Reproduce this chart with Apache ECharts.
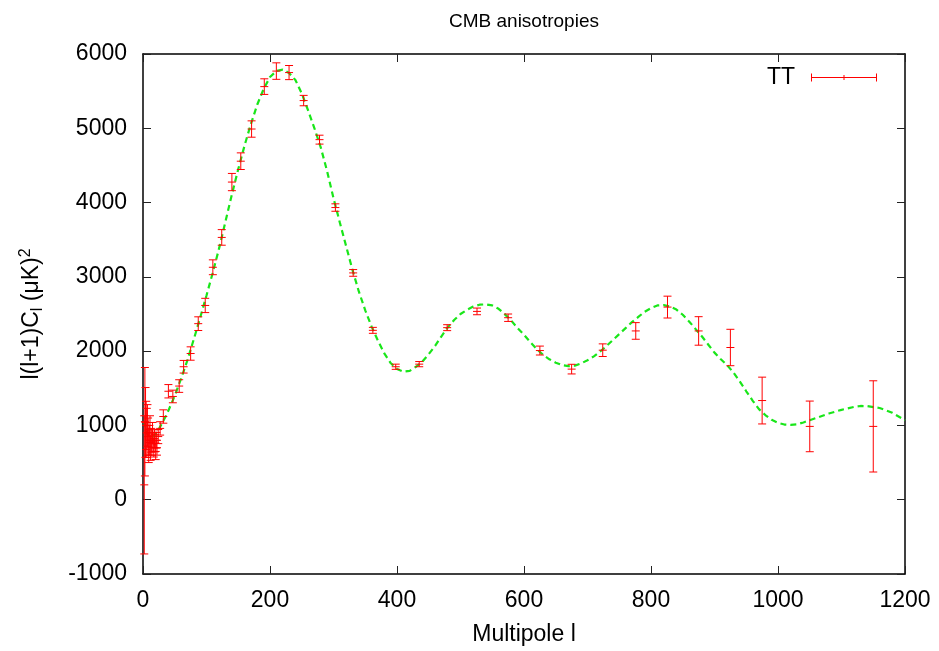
<!DOCTYPE html>
<html>
<head>
<meta charset="utf-8">
<script src="https://cdn.jsdelivr.net/npm/echarts@6/dist/echarts.min.js"></script>
<style>html,body{margin:0;padding:0;background:#fff}#c{width:939px;height:651px}</style>
</head>
<body>
<div id="c"></div>
<script>
// ---- data ----
var ttL   = [2,3,4,5,6,7,8,9,10,11,12,13,14,15,16,17,18,19,20,21,22,24,27,32,40,47,57,64,75,87,98,110,124,140,154,171,191,210,230,253,278,303,331,362,398,435,479,526,575,625,675,724,776,826,875,925,975,1050,1150];
var ttV   = [200,1050,1040,1000,900,1000,850,720,800,950,700,800,750,900,780,700,820,760,650,800,700,850,960,1120,1460,1390,1530,1790,1968,2370,2615,3129,3531,4276,4557,4990,5561,5770,5750,5373,4847,3933,3053,2280,1790,1825,2316,2535,2450,2008,1758,2013,2272,2593,2272,2049,1335,987,987];
var ttErr = [930,730,470,325,330,280,250,220,200,180,170,160,150,140,130,125,120,115,110,105,100,95,90,90,90,85,85,85,90,92,96,100,105,116,112,110,105,111,95,70,60,50,45,40,35,35,40,45,50,60,65,85,112,147,192,245,315,341,614];

var curveL = [2,4,6,8,10,12,14,17,20,25,30,35,40,50,60,70,80,90,100,110,120,130,140,150,160,170,180,190,200,210,220,230,240,250,260,270,280,290,300,310,320,330,340,350,360,370,380,390,400,410,420,430,440,450,460,470,480,490,500,510,520,530,540,550,560,570,580,590,600,610,620,630,640,650,660,670,680,690,700,710,720,730,740,750,760,770,780,790,800,810,820,830,840,850,860,870,880,890,900,910,920,930,940,950,960,970,980,990,1000,1010,1020,1030,1040,1060,1080,1100,1120,1130,1140,1160,1180,1200];
var curveV = [1060,960,900,865,845,838,840,855,885,950,1030,1110,1200,1400,1630,1880,2160,2450,2750,3060,3390,3750,4110,4450,4770,5060,5320,5530,5690,5770,5790,5745,5650,5470,5240,5000,4740,4420,4060,3730,3410,3090,2800,2550,2330,2140,1970,1840,1760,1725,1735,1790,1860,1960,2070,2200,2320,2420,2500,2555,2600,2625,2630,2615,2570,2495,2410,2310,2220,2120,2030,1950,1890,1845,1812,1798,1805,1835,1878,1930,1995,2070,2150,2230,2310,2390,2460,2530,2580,2615,2620,2600,2560,2490,2400,2300,2200,2090,1980,1890,1810,1710,1590,1460,1335,1220,1140,1075,1035,1012,1008,1015,1040,1100,1160,1210,1250,1262,1260,1235,1170,1070];

var xTicks = [0,200,400,600,800,1000,1200];
var yTicks = [-1000,0,1000,2000,3000,4000,5000,6000];

var titleText = 'CMB anisotropies';
var xName = 'Multipole l';
var legendName = 'TT';

// ---- build ----
var FONT = 'Liberation Sans, Arial, Helvetica, sans-serif';
var FS = 23;
var ttData = ttL.map(function(l,i){ return [l, ttV[i], ttErr[i]]; });
var curveData = curveL.map(function(l,i){ return [l, curveV[i]]; });
var plain = function(v){ return String(v); };

var chart = echarts.init(document.getElementById('c'), null, {renderer:'canvas'});
var frame = {show:true, onZero:false, lineStyle:{color:'#000', width:1.5}};
var tickIn = {show:true, inside:true, length:8, lineStyle:{color:'#222', width:1}};

var opt = {
  animation:false,
  backgroundColor:'#fff',
  title:{text:titleText, left:444, top:7, textStyle:{fontFamily:FONT, fontSize:19, fontWeight:'normal', color:'#000'}},
  legend:{
    data:[{name:legendName, icon:'path://M0,3.5h66v1h-66z M0,0h1v8h-1z M65,0h1v8h-1z M32.5,1.5h1v5h-1z'}],
    right:57, top:61, align:'right', itemWidth:66, itemHeight:8, selectedMode:false,
    textStyle:{fontFamily:FONT, fontSize:FS, color:'#000', padding:[0,11,0,0]}
  },
  grid:{left:143, right:34, top:54, bottom:73, containLabel:false},
  xAxis:[
    {type:'value', min:xTicks[0], max:xTicks[xTicks.length-1], interval:200, position:'bottom',
     name:xName, nameLocation:'middle', nameGap:49,
     nameTextStyle:{fontFamily:FONT, fontSize:FS, color:'#000'},
     axisLine:frame, axisTick:tickIn, splitLine:{show:false},
     axisLabel:{fontFamily:FONT, fontSize:FS, color:'#000', margin:15, formatter:plain}},
    {type:'value', min:xTicks[0], max:xTicks[xTicks.length-1], interval:200, position:'top',
     axisLine:frame, axisTick:tickIn, splitLine:{show:false}, axisLabel:{show:false}}
  ],
  yAxis:[
    {type:'value', min:yTicks[0], max:yTicks[yTicks.length-1], interval:1000, position:'left',
     name:'l(l+1)C{sub|l} (μK){sup|2}', nameLocation:'middle', nameGap:97, nameRotate:90,
     nameTextStyle:{fontFamily:FONT, fontSize:FS, color:'#000',
       rich:{
         sub:{fontFamily:FONT, fontSize:16, color:'#000', verticalAlign:'bottom', padding:[10,0,0,0]},
         sup:{fontFamily:FONT, fontSize:16, color:'#000', verticalAlign:'top', padding:[0,0,12,0]}
       }},
     axisLine:frame, axisTick:tickIn, splitLine:{show:false},
     axisLabel:{fontFamily:FONT, fontSize:FS, color:'#000', margin:16, formatter:plain}},
    {type:'value', min:yTicks[0], max:yTicks[yTicks.length-1], interval:1000, position:'right',
     axisLine:frame, axisTick:tickIn, splitLine:{show:false}, axisLabel:{show:false}}
  ],
  series:[
    {
      name:'curve', type:'line', data:curveData, showSymbol:false, symbol:'none',
      xAxisIndex:0, yAxisIndex:0, clip:true, z:3,
      lineStyle:{color:'#19e619', width:2.2, type:[6,4]}
    },
    {
      name:legendName, type:'custom', data:ttData, xAxisIndex:0, yAxisIndex:0, z:4,
      encode:{x:0, y:1},
      itemStyle:{color:'#ff0000'},
      renderItem:function(params, api){
        var x = api.value(0), y = api.value(1), e = api.value(2);
        var hi = api.coord([x, y + e]);
        var lo = api.coord([x, y - e]);
        var c  = api.coord([x, y]);
        var w = 4, st = {stroke:'#ff0000', lineWidth:1};
        return {type:'group', children:[
          {type:'line', shape:{x1:c[0], y1:hi[1], x2:c[0], y2:lo[1]}, style:st},
          {type:'line', shape:{x1:c[0]-w, y1:hi[1], x2:c[0]+w, y2:hi[1]}, style:st},
          {type:'line', shape:{x1:c[0]-w, y1:lo[1], x2:c[0]+w, y2:lo[1]}, style:st},
          {type:'line', shape:{x1:c[0]-w, y1:c[1], x2:c[0]+w, y2:c[1]}, style:st}
        ]};
      }
    }
  ]
};
chart.setOption(opt);
</script>
</body>
</html>
